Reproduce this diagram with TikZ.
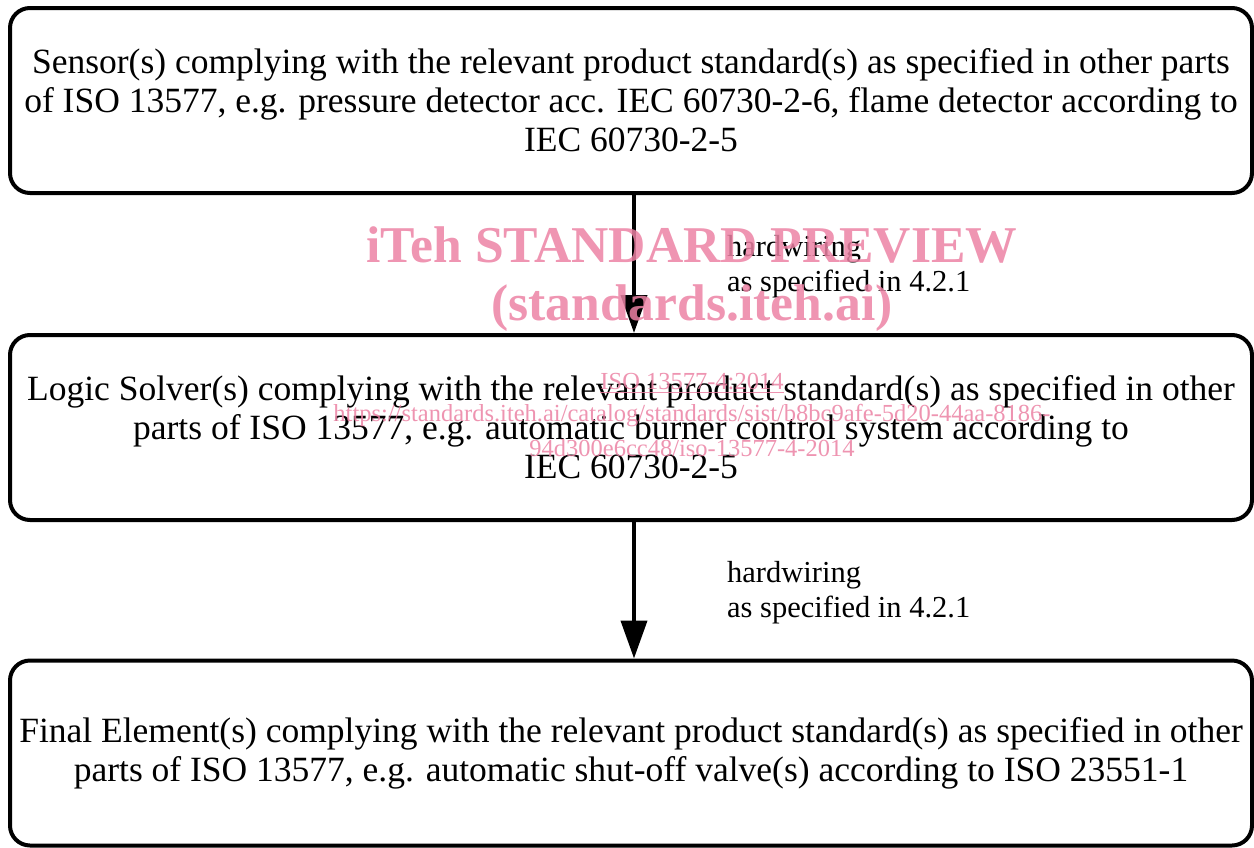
\documentclass[tikz,border=0pt]{standalone}
\usepackage{fontspec}
\setmainfont{Liberation Serif}
\usetikzlibrary{arrows.meta}
\definecolor{wm}{RGB}{236,130,164}
\tikzset{
  box/.style={draw=black, line width=4pt, rounded corners=20pt, fill=white,
    minimum width=1242pt, minimum height=185pt, align=center, inner sep=0pt,
    font=\fontsize{35.5}{39}\selectfont},
  conn/.style={line width=4pt, -{Triangle[width=26pt,length=38pt]}},
  lab/.style={anchor=north west, align=left, inner sep=0pt, font=\fontsize{30.5}{35}\selectfont},
  wmbig/.style={text=wm, font=\fontsize{51.6}{62}\selectfont\bfseries, inner sep=0pt, opacity=0.85},
  wmsmall/.style={text=wm, font=\fontsize{24.5}{32}\selectfont, inner sep=0pt, opacity=0.85}
}
\begin{document}
\begin{tikzpicture}[x=1pt,y=-1pt]
\useasboundingbox (0,0) rectangle (1254,847);
\begin{scope}
\clip (0,0) rectangle (1254,847);
\node[box] (s) at (631,100.5) {Sensor(s) complying with the relevant product standard(s) as specified in other parts\\ of ISO 13577, e.g. pressure detector acc. IEC 60730-2-6, flame detector according to\\ IEC 60730-2-5};
\node[box] (l) at (631,427.5) {Logic Solver(s) complying with the relevant product standard(s) as specified in other\\ parts of ISO 13577, e.g. automatic burner control system according to\\ IEC 60730-2-5};
\node[box] (f) at (631,753) {Final Element(s) complying with the relevant product standard(s) as specified in other\\ parts of ISO 13577, e.g. automatic shut-off valve(s) according to ISO 23551-1};
\end{scope}
\draw[conn] (s.south -| 634,0) -- (l.north -| 634,0);
\draw[conn] (l.south -| 634,0) -- (f.north -| 634,0);
\node[lab] (h1) at (727,235) {hardwiring\\as specified in 4.2.1};
\node[lab] (h2) at (727,561) {hardwiring\\as specified in 4.2.1};
\node[wmbig] (w1) at (692,245) {iTeh STANDARD PREVIEW};
\node[wmbig] (w2) at (692,308) {(standards.iteh.ai)};
\node[wmsmall] (w3) at (692,383) {\underline{ISO 13577-4:2014}};
\node[wmsmall] (w4) at (692,416) {https://standards.iteh.ai/catalog/standards/sist/b8bc9afe-5d20-44aa-8186-};
\node[wmsmall] (w5) at (692,448) {94d300e6cc48/iso-13577-4-2014};
\end{tikzpicture}
\end{document}
